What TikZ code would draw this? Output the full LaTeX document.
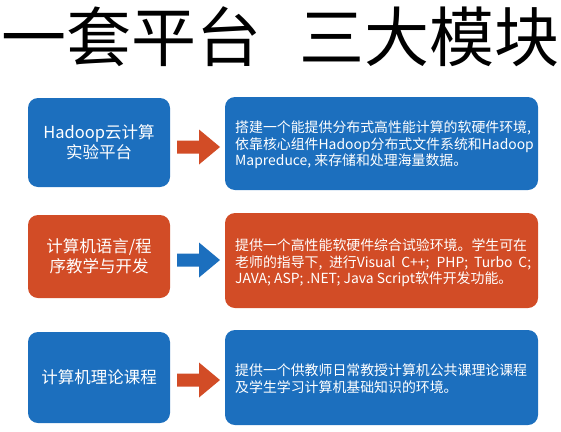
\documentclass[tikz,border=0pt]{standalone}
\usepackage{fontspec}
\setmainfont{Noto Sans CJK SC}
\definecolor{pblue}{HTML}{1C6FBE}
\definecolor{pred}{HTML}{D24C26}
\tikzset{
  titletext/.style={inner sep=0pt, font=\fontsize{65pt}{70pt}\selectfont},
  box/.style={rounded corners=10pt, inner sep=0pt, text=white},
  lbox/.style={box, minimum width=142pt, align=center, font=\fontsize{16.5pt}{20pt}\selectfont},
  rbox/.style={box, minimum width=313pt},
  desc/.style={anchor=west, align=left, text=white, inner sep=0pt, font=\fontsize{13.9pt}{16.5pt}\selectfont},
  pics/blockarrow/.style={code={
    \fill (-21.5,-6.5) -- (0.5,-6.5) -- (0.5,-17.5) -- (21.5,0) -- (0.5,17.5) -- (0.5,6.5) -- (-21.5,6.5) -- cycle;
  }},
}
\begin{document}
\begin{tikzpicture}[x=1pt,y=-1pt]
\useasboundingbox (0,0) rectangle (561,431);
\node[titletext, anchor=base west] (title1) at (1,61.5) {一套平台};
\node[titletext, anchor=base east] (title2) at (560,61.5) {三大模块};

% row 1
\node[lbox, fill=pblue, minimum height=89pt] (l1) at (99,142.5) {Hadoop云计算\\实验平台};
\node[rbox, fill=pblue, minimum height=93pt] (r1) at (381.5,143.5) {};
\node[desc] (t1) at (235,145) {搭建一个能提供分布式高性能计算的软硬件环境,\\依靠核心组件Hadoop分布式文件系统和Hadoop\\Mapreduce, 来存储和处理海量数据。};
\pic[pred] (a1) at (198.5,147) {blockarrow};

% row 2
\node[lbox, fill=pred, minimum height=83pt] (l2) at (99,256.5) {计算机语言/程\\序教学与开发};
\node[rbox, fill=pred, minimum height=95pt] (r2) at (381.5,260.5) {};
\node[desc] (t2) at (235,263) {提供一个高性能软硬件综合试验环境。学生可在\\\makebox[296pt][s]{老师的指导下, 进行Visual C++; PHP; Turbo C;}\\JAVA; ASP; .NET; Java Script软件开发功能。};
\pic[pblue] (a2) at (198.5,260) {blockarrow};

% row 3
\node[lbox, fill=pblue, minimum height=91pt] (l3) at (99,377.5) {计算机理论课程};
\node[rbox, fill=pblue, minimum height=95pt] (r3) at (381.5,377.5) {};
\node[desc] (t3) at (235,378.5) {提供一个供教师日常教授计算机公共课理论课程\\及学生学习计算机基础知识的环境。};
\pic[pred] (a3) at (198.5,380) {blockarrow};
\end{tikzpicture}
\end{document}
